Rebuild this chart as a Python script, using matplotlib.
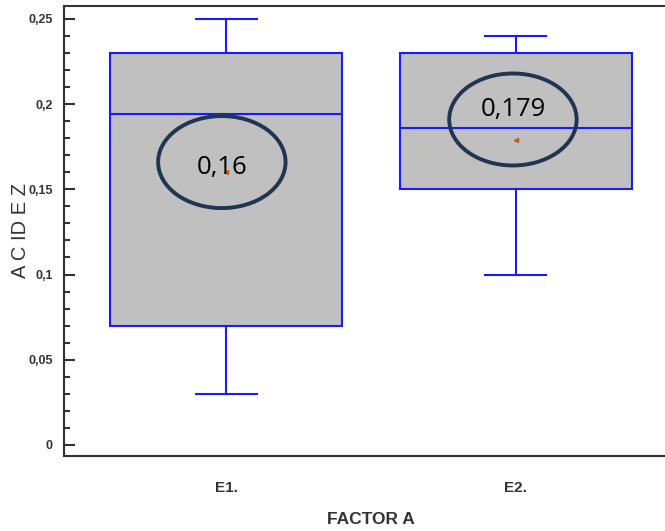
import matplotlib.pyplot as plt
from matplotlib.patches import Ellipse
from matplotlib.ticker import MultipleLocator, FuncFormatter

# Box summary
groups = ["E1.", "E2."]
whisker_low = [0.03, 0.10]
q1 = [0.07, 0.15]
medians = [0.194, 0.186]
q3 = [0.23, 0.23]
whisker_high = [0.25, 0.24]
means = [0.16, 0.179]
mean_labels = ["0,16", "0,179"]

stats = []
for i, g in enumerate(groups):
    stats.append({"label": g, "whislo": whisker_low[i], "q1": q1[i], "med": medians[i],
                  "q3": q3[i], "whishi": whisker_high[i], "mean": means[i], "fliers": []})

fig = plt.figure(figsize=(6.65, 5.31), dpi=100)
ax = fig.add_axes([64 / 665, 1 - 456 / 531, 614 / 665, 450 / 531])

blue = "#1a1aff"
ax.bxp(stats, positions=[1, 2], widths=0.8, capwidths=0.21, showmeans=False,
       patch_artist=True,
       boxprops=dict(facecolor="#c0c0c0", edgecolor=blue, linewidth=1.5),
       medianprops=dict(color=blue, linewidth=1.5),
       whiskerprops=dict(color=blue, linewidth=1.5),
       capprops=dict(color=blue, linewidth=1.5))

# mean markers
ax.plot([1, 2], means, linestyle="none", marker="<", markersize=3,
        color="#c0601c", zorder=5)

# annotation ellipses with mean values
ell_x = [0.985, 1.99]
ell_y = [0.166, 0.191]
txt_y = [0.163, 0.197]
for i in range(2):
    ax.add_patch(Ellipse((ell_x[i], ell_y[i]), 0.44, 0.054, fill=False,
                         edgecolor="#1f3550", linewidth=2.8, zorder=6))
    ax.text(ell_x[i], txt_y[i], mean_labels[i], ha="center", va="center",
            fontsize=18.5, family=["Open Sans", "DejaVu Sans"], color="black", zorder=7)

ax.set_xlim(0.44, 2.56)
ax.set_ylim(-0.0065, 0.2576)

ax.yaxis.set_major_locator(MultipleLocator(0.05))
ax.yaxis.set_minor_locator(MultipleLocator(0.01))
ax.yaxis.set_major_formatter(FuncFormatter(lambda v, p: ("%g" % round(v, 3)).replace(".", ",")))
ax.tick_params(axis="y", which="major", direction="in", length=8, width=1.5, pad=8,
               labelsize=9, labelcolor="#333333", color="#333333")
ax.tick_params(axis="y", which="minor", direction="in", length=4.5, width=1.5, color="#333333")
ax.tick_params(axis="x", length=0, pad=18, labelsize=11, labelcolor="#333333")
for lab in ax.get_yticklabels() + ax.get_xticklabels():
    lab.set_family(["Liberation Sans", "DejaVu Sans"])
    lab.set_fontweight("bold")

for s in ax.spines.values():
    s.set_linewidth(1.5)
    s.set_color("#333333")

ax.set_ylabel("A C ID E Z", fontsize=14.5, color="#333333",
              family=["Liberation Sans", "DejaVu Sans"])
ax.yaxis.set_label_coords(-0.056, 0.5)
ax.set_xlabel("FACTOR A", fontsize=12.5, color="#333333", labelpad=12,
              family=["Liberation Sans", "DejaVu Sans"], fontweight="bold")

fig.savefig("out.png", dpi=100)
